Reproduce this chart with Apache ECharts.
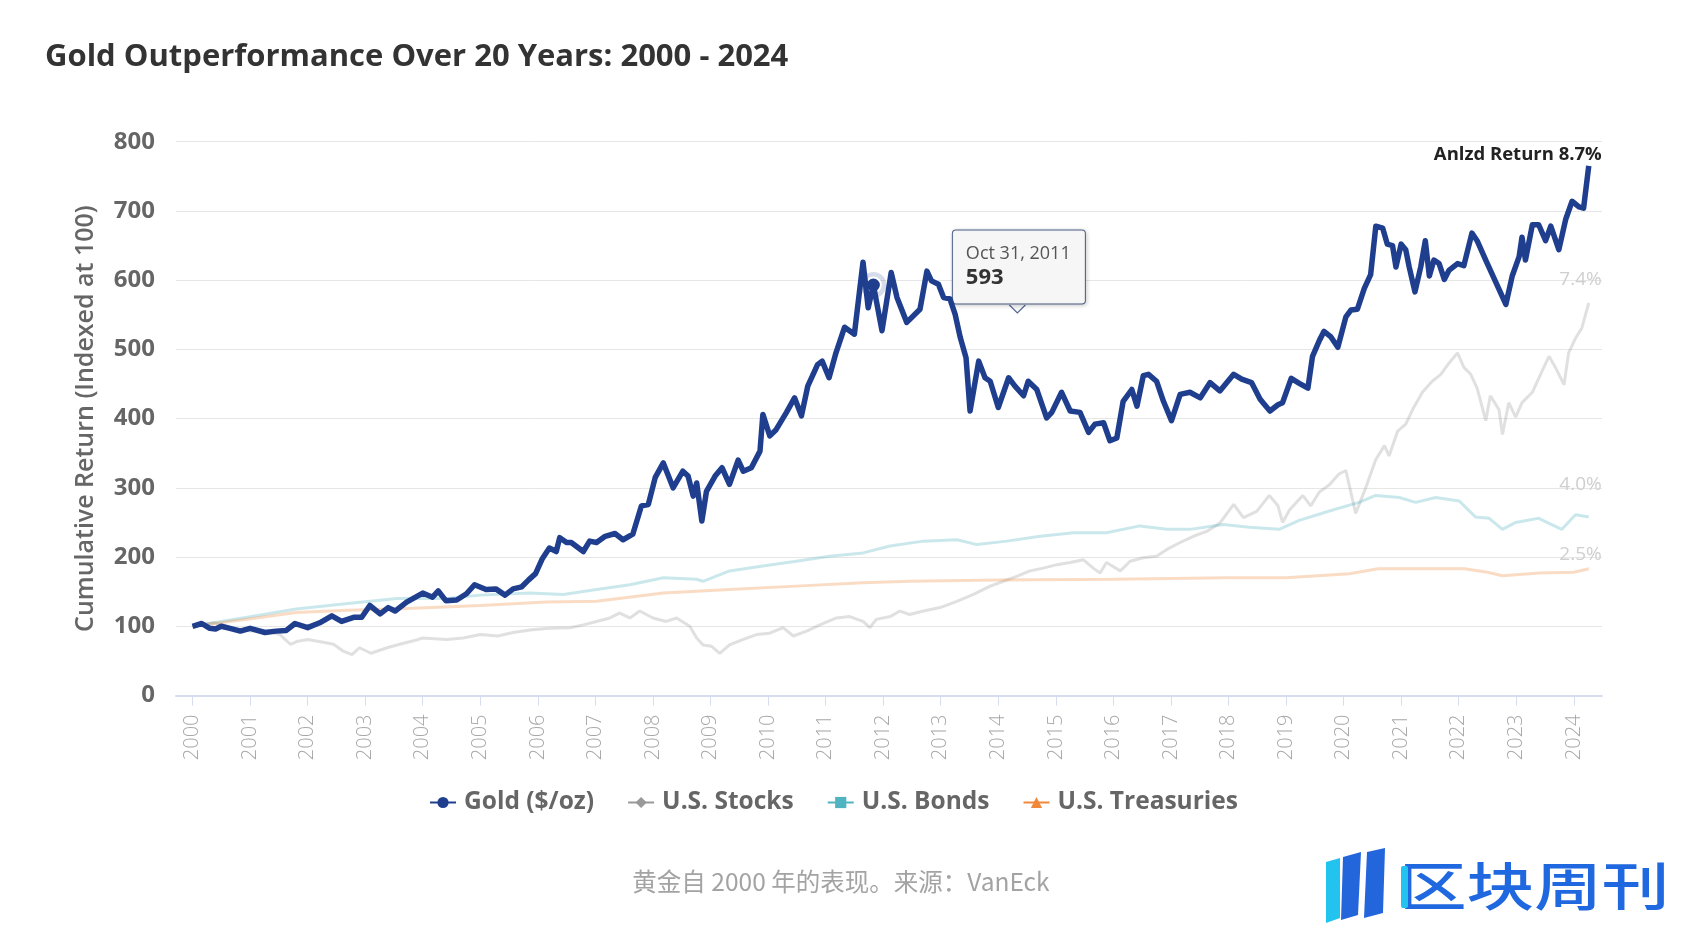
<!DOCTYPE html>
<html><head><meta charset="utf-8">
<script src="https://cdn.jsdelivr.net/npm/echarts@6/dist/echarts.min.js"></script>
<style>html,body{margin:0;padding:0;background:#fff}#c{width:1696px;height:940px}</style>
</head><body><div id="c"></div>
<script>
const yearTicks = [2000,2001,2002,2003,2004,2005,2006,2007,2008,2009,2010,2011,2012,2013,2014,2015,2016,2017,2018,2019,2020,2021,2022,2023,2024];
const yTicks = [0,100,200,300,400,500,600,700,800];

const goldX = [2000.00,2000.16,2000.30,2000.40,2000.50,2000.65,2000.83,2001.00,2001.26,2001.45,2001.63,2001.78,2002.00,2002.21,2002.42,2002.59,2002.80,2002.94,2003.08,2003.26,2003.40,2003.52,2003.72,2004.00,2004.17,2004.27,2004.40,2004.59,2004.76,2004.90,2005.10,2005.27,2005.43,2005.57,2005.72,2005.84,2005.96,2006.08,2006.20,2006.32,2006.38,2006.50,2006.58,2006.79,2006.90,2007.02,2007.17,2007.34,2007.48,2007.65,2007.80,2007.92,2008.04,2008.18,2008.35,2008.52,2008.61,2008.70,2008.76,2008.85,2008.93,2009.08,2009.20,2009.33,2009.48,2009.57,2009.71,2009.86,2009.91,2010.03,2010.14,2010.32,2010.46,2010.58,2010.69,2010.86,2010.94,2011.06,2011.18,2011.33,2011.50,2011.65,2011.74,2011.83,2011.98,2012.14,2012.24,2012.41,2012.64,2012.76,2012.84,2012.96,2013.05,2013.16,2013.25,2013.34,2013.44,2013.51,2013.66,2013.77,2013.86,2014.00,2014.18,2014.29,2014.44,2014.52,2014.67,2014.84,2014.93,2015.10,2015.25,2015.42,2015.57,2015.68,2015.83,2015.94,2016.06,2016.17,2016.32,2016.41,2016.52,2016.61,2016.75,2016.87,2017.01,2017.16,2017.33,2017.51,2017.68,2017.85,2018.09,2018.23,2018.40,2018.55,2018.72,2018.86,2018.94,2019.09,2019.23,2019.38,2019.46,2019.58,2019.66,2019.78,2019.90,2020.04,2020.13,2020.24,2020.36,2020.47,2020.56,2020.68,2020.76,2020.85,2020.91,2021.00,2021.08,2021.14,2021.24,2021.34,2021.42,2021.49,2021.57,2021.66,2021.75,2021.83,2021.98,2022.09,2022.23,2022.32,2022.47,2022.64,2022.82,2022.93,2023.05,2023.10,2023.16,2023.28,2023.39,2023.51,2023.60,2023.74,2023.86,2023.97,2024.09,2024.17,2024.26];
const goldY = [100,104,97,96,100,97,93,97,91,93,94,104,98,105,115,107,113,113,130,118,127,122,135,148,142,151,137,138,147,160,153,154,145,154,157,167,176,198,213,208,228,221,221,208,223,221,230,234,225,233,274,276,315,336,300,324,317,288,307,252,295,317,329,305,340,324,329,353,406,375,384,409,430,404,447,478,483,459,495,532,522,626,560,593,527,611,575,539,558,613,599,594,575,573,551,517,488,411,483,459,454,416,459,447,433,454,442,401,409,438,411,409,380,392,394,368,372,425,442,418,462,464,454,425,397,435,438,430,452,440,464,457,452,428,411,420,423,458,451,444,490,513,526,518,503,547,557,558,588,608,678,675,652,650,619,652,644,619,583,619,657,606,629,624,601,614,624,621,668,657,629,598,565,606,634,662,629,680,680,657,678,644,688,714,706,704,765];

const stocksX = [2000.00,2000.36,2000.65,2001.00,2001.30,2001.52,2001.70,2001.81,2002.00,2002.20,2002.45,2002.62,2002.77,2002.90,2003.10,2003.38,2003.60,2003.84,2004.00,2004.42,2004.70,2005.00,2005.30,2005.57,2005.90,2006.20,2006.56,2006.79,2007.02,2007.25,2007.42,2007.60,2007.77,2008.00,2008.23,2008.41,2008.64,2008.76,2008.87,2009.02,2009.16,2009.33,2009.57,2009.80,2010.03,2010.26,2010.44,2010.67,2010.90,2011.19,2011.42,2011.65,2011.77,2011.88,2012.12,2012.29,2012.46,2012.70,2012.99,2013.28,2013.57,2013.86,2014.09,2014.32,2014.55,2014.78,2015.02,2015.25,2015.48,2015.65,2015.77,2015.88,2016.12,2016.29,2016.52,2016.75,2016.93,2017.16,2017.39,2017.62,2017.85,2018.09,2018.26,2018.49,2018.71,2018.86,2018.94,2019.06,2019.29,2019.43,2019.58,2019.75,2019.92,2020.04,2020.21,2020.38,2020.56,2020.71,2020.79,2020.94,2021.08,2021.20,2021.37,2021.54,2021.69,2021.83,2021.98,2022.09,2022.21,2022.32,2022.47,2022.55,2022.70,2022.76,2022.87,2022.99,2023.10,2023.28,2023.45,2023.57,2023.68,2023.83,2023.91,2024.03,2024.14,2024.26];
const stocksY = [100,105,99,93,93,88,74,78,81,78,74,64,59,69,61,69,74,79,83,81,83,88,86,91,95,97,98,102,107,112,119,112,122,112,107,112,100,83,73,71,61,73,81,88,90,98,86,93,102,112,114,107,98,110,114,122,117,122,127,136,146,158,165,172,180,184,189,192,196,184,177,192,180,194,199,201,211,221,230,237,249,276,257,266,289,274,250,268,289,274,294,304,320,325,263,299,341,361,346,382,392,413,438,454,464,480,495,474,464,444,397,433,413,377,423,402,423,438,469,490,474,449,495,516,531,567];

const bondsX = [2000.00,2000.95,2001.80,2002.70,2003.55,2004.42,2005.00,2005.86,2006.44,2007.02,2007.60,2008.18,2008.76,2008.87,2009.33,2009.91,2010.49,2011.07,2011.65,2012.12,2012.70,2013.28,2013.63,2014.15,2014.73,2015.31,2015.88,2016.46,2016.93,2017.33,2017.91,2018.36,2018.88,2019.23,2019.81,2020.27,2020.56,2020.97,2021.25,2021.60,2022.01,2022.29,2022.53,2022.76,2022.99,2023.39,2023.79,2024.03,2024.26];
const bondsY = [100,113,125,133,140,140,145,148,146,153,160,170,168,165,180,187,194,201,206,216,223,225,218,223,230,235,235,245,240,240,247,243,240,253,268,279,289,286,279,286,281,258,256,240,250,256,240,261,258];

const treasX = [2000.00,2000.95,2001.80,2002.70,2003.84,2005.00,2006.15,2007.02,2008.18,2009.33,2010.49,2011.65,2012.46,2014.00,2016.00,2018.00,2019.00,2020.10,2020.60,2022.10,2022.50,2022.76,2023.40,2024.00,2024.26];
const treasY = [100,110,120,123,126,130,135,136,148,153,158,163,165,167,168,170,170,176,183,183,178,173,177,178,183];

const seriesNames = ['Gold ($/oz)','U.S. Stocks','U.S. Bonds','U.S. Treasuries'];
const endLabels = ['Anlzd Return 8.7%','7.4%','4.0%','2.5%'];
const tipDate = 'Oct 31, 2011';
const tipX = 2011.83;

const zip = (xs, ys) => xs.map((x, i) => [x, ys[i]]);
const goldData = zip(goldX, goldY);
const stocksData = zip(stocksX, stocksY);
const bondsData = zip(bondsX, bondsY);
const treasData = zip(treasX, treasY);
const last = d => d[d.length - 1];
const tipPoint = goldData[goldX.indexOf(tipX)];

const C = {gold:'#1f3f8e', stocks:'#999999', bonds:'#4fb4c0', treas:'#f0883c'};
const FONT = "'Open Sans', sans-serif";

function endMark(d, text, off, style) {
  return {
    coord: last(d), symbol: 'circle', symbolSize: 0,
    label: Object.assign({show: true, formatter: text, position: 'inside', align: 'right',
      verticalAlign: 'middle', offset: off, fontFamily: FONT}, style)
  };
}

const chart = echarts.init(document.getElementById('c'));
chart.setOption({
  animation: false,
  backgroundColor: '#ffffff',
  title: [
    {text: 'Gold Outperformance Over 20 Years: 2000 - 2024', left: 45, top: 38, padding: 0,
     textStyle: {fontFamily: FONT, fontSize: 31, fontWeight: 'bold', color: '#333333', lineHeight: 38}},
    {text: '黄金自 2000 年的表现。来源：VanEck', left: 841, top: 867, padding: 0, textAlign: 'center',
     textStyle: {fontFamily: "'Noto Sans CJK SC', sans-serif", fontSize: 24.5, fontWeight: 'normal', color: '#a3a3a3', lineHeight: 30}}
  ],
  grid: {left: 176, right: 94, top: 141.7, bottom: 244.5, containLabel: false},
  legend: {
    data: seriesNames, left: 424, top: 785, itemGap: 33, itemWidth: 26, itemHeight: 14,
    selectedMode: false,
    textStyle: {fontFamily: FONT, fontSize: 24.5, fontWeight: 'bold', color: '#666666', padding: [0, 0, 0, 3]},
    lineStyle: {opacity: 1}
  },
  xAxis: {
    type: 'value', min: 1999.713, max: 2024.49,
    splitLine: {show: false},
    axisLine: {show: true, lineStyle: {color: '#d6ddee', width: 2}},
    axisTick: {show: true, customValues: yearTicks, length: 10, lineStyle: {color: '#d6ddee', width: 1}},
    axisLabel: {show: true, customValues: yearTicks, rotate: 90, margin: 19, color: '#a8a8a8',
      fontFamily: FONT, fontSize: 20, fontWeight: 300, formatter: v => String(Math.round(v))}
  },
  yAxis: {
    type: 'value', min: 0, max: 800, interval: 100,
    name: 'Cumulative Return (Indexed at 100)', nameLocation: 'middle', nameRotate: 90, nameGap: 78,
    nameTextStyle: {fontFamily: FONT, fontSize: 25, fontWeight: 600, color: '#666666'},
    axisLine: {show: false}, axisTick: {show: false},
    axisLabel: {margin: 21, color: '#666666', fontFamily: FONT, fontSize: 24, fontWeight: 'bold'},
    splitLine: {lineStyle: {color: '#e6e6e6', width: 1}}
  },
  series: [
    {name: seriesNames[0], type: 'line', data: goldData, z: 5, symbol: 'circle', showSymbol: false,
     color: C.gold, silent: true, lineStyle: {width: 5.5, color: C.gold, join: 'round'},
     emphasis: {disabled: true},
     markPoint: {silent: true, animation: false, data: [
       {coord: tipPoint, symbol: 'circle', symbolSize: 26, itemStyle: {color: 'rgba(31,63,142,0.18)'}, label: {show: false}},
       {coord: tipPoint, symbol: 'circle', symbolSize: 15, itemStyle: {color: C.gold, borderColor: '#ffffff', borderWidth: 2},
        label: {show: true, position: [88, -46], align: 'left', verticalAlign: 'top',
          formatter: '{a|' + tipDate + '}\n{b|' + tipPoint[1] + '}',
          backgroundColor: 'rgba(247,247,247,0.97)', borderColor: '#51658f', borderWidth: 1, borderRadius: 3,
          padding: [11, 12, 14, 13], width: 107,
          shadowColor: 'rgba(0,0,0,0.18)', shadowBlur: 4, shadowOffsetX: 1, shadowOffsetY: 1,
          rich: {a: {fontFamily: FONT, fontSize: 18, color: '#555555', lineHeight: 24},
                 b: {fontFamily: FONT, fontSize: 22, fontWeight: 'bold', color: '#333333', lineHeight: 24}}}},
       {coord: tipPoint, symbol: 'path://M0,0L8,8L16,0', symbolSize: [16, 8], symbolOffset: [144, 24],
        itemStyle: {color: '#f7f7f7', borderColor: '#51658f', borderWidth: 1}, label: {show: false}},
       endMark(goldData, endLabels[0], [13, -11], {fontSize: 18.5, fontWeight: 'bold', color: '#222222'})
     ]}},
    {name: seriesNames[1], type: 'line', data: stocksData, z: 2, symbol: 'diamond', showSymbol: false,
     color: C.stocks, silent: true, lineStyle: {width: 3, color: C.stocks, opacity: 0.3}, emphasis: {disabled: true},
     markPoint: {silent: true, animation: false, data: [endMark(stocksData, endLabels[1], [13, -23], {fontSize: 19, color: '#cfcfcf'})]}},
    {name: seriesNames[2], type: 'line', data: bondsData, z: 2, symbol: 'rect', showSymbol: false,
     color: C.bonds, silent: true, lineStyle: {width: 3, color: C.bonds, opacity: 0.3}, emphasis: {disabled: true},
     markPoint: {silent: true, animation: false, data: [endMark(bondsData, endLabels[2], [13, -32], {fontSize: 19, color: '#cfcfcf'})]}},
    {name: seriesNames[3], type: 'line', data: treasData, z: 2, symbol: 'triangle', showSymbol: false,
     color: C.treas, silent: true, lineStyle: {width: 3, color: C.treas, opacity: 0.3}, emphasis: {disabled: true},
     markPoint: {silent: true, animation: false, data: [endMark(treasData, endLabels[3], [13, -14], {fontSize: 19, color: '#cfcfcf'})]}}
  ],
  graphic: [
    {type: 'polygon', silent: true, shape: {points: [[1326,862],[1340,858],[1340,918],[1326,923]]}, style: {fill: '#22c3ee'}},
    {type: 'polygon', silent: true, shape: {points: [[1343,857],[1361,852],[1358,915],[1341,920]]}, style: {fill: '#2366dc'}},
    {type: 'polygon', silent: true, shape: {points: [[1367,852],[1385,848],[1383,913],[1364,918]]}, style: {fill: '#2366dc'}},
    {type: 'text', silent: true, x: 1399, y: 886, scaleX: 1.3,
     style: {text: '区块周刊', fontSize: 52, fontFamily: "'Noto Sans CJK SC', sans-serif", fontWeight: 500,
       fill: '#1f68df', align: 'left', verticalAlign: 'middle'}},
    {type: 'rect', silent: true, shape: {x: 1401, y: 866, width: 7, height: 42, r: 2}, style: {fill: '#22c3ee'}}
  ]
});
</script>
</body></html>
